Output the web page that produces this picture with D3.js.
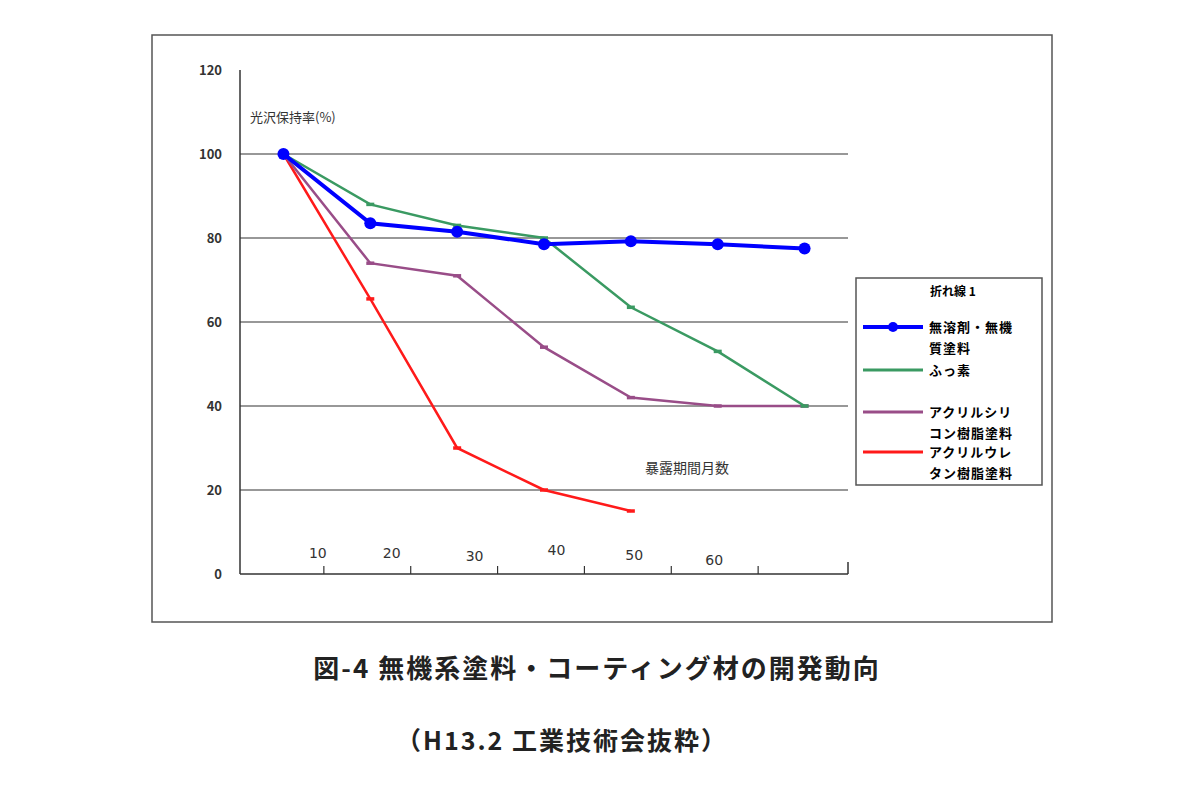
<!DOCTYPE html>
<html>
<head>
<meta charset="utf-8">
<script src="https://cdn.jsdelivr.net/npm/d3@7"></script>
<style>
body { margin: 0; background: #fff; font-family: "Noto Sans CJK JP", sans-serif; }
</style>
</head>
<body>
<script>
var months = [0, 1, 2, 3, 4, 5, 6];
var tickLabels = ["10", "20", "30", "40", "50", "60"];
var yTicks = [0, 20, 40, 60, 80, 100, 120];
var seriesNames = ["無溶剤・無機\n質塗料", "ふっ素", "アクリルシリ\nコン樹脂塗料", "アクリルウレ\nタン樹脂塗料"];
var seriesColors = ["#0000ff", "#3a9a62", "#994d88", "#ff1a1a"];
var inorganic = [100, 83.5, 81.5, 78.5, 79.2, 78.5, 77.5];
var fluorine = [100, 88, 83, 80, 63.5, 53, 40];
var acrylSilicone = [100, 74, 71, 54, 42, 40, 40];
var acrylUrethane = [100, 65.5, 30, 20, 15];
var series = [inorganic, fluorine, acrylSilicone, acrylUrethane];

var svg = d3.select("body").append("svg").attr("width", 1200).attr("height", 798);

svg.append("rect").attr("x", 152).attr("y", 35).attr("width", 900).attr("height", 587)
    .attr("fill", "none").attr("stroke", "#555").attr("stroke-width", 1.5);

var x = d3.scaleBand().domain(months).range([240, 848]);
var y = d3.scaleLinear().domain([0, 120]).range([574, 70]);
function cx(i) { return x(i) + x.bandwidth() / 2; }

// gridlines
svg.selectAll(".grid").data(yTicks.filter(function (d) { return d > 0 && d < 120; }))
    .enter().append("line")
    .attr("x1", 240).attr("x2", 848)
    .attr("y1", function (d) { return y(d); }).attr("y2", function (d) { return y(d); })
    .attr("stroke", "#333").attr("stroke-width", 1.2);

svg.append("line").attr("x1", 240).attr("x2", 240).attr("y1", y(120)).attr("y2", y(0))
    .attr("stroke", "#333").attr("stroke-width", 1.5);
svg.append("line").attr("x1", 240).attr("x2", 848).attr("y1", y(0)).attr("y2", y(0))
    .attr("stroke", "#333").attr("stroke-width", 1.5);
svg.append("line").attr("x1", 848).attr("x2", 848).attr("y1", y(0) - 12).attr("y2", y(0))
    .attr("stroke", "#333").attr("stroke-width", 1.5);

svg.selectAll(".ylab").data(yTicks).enter().append("text")
    .attr("x", 222).attr("y", function (d) { return y(d) + 5; })
    .attr("text-anchor", "end").attr("font-size", 13).attr("font-weight", "bold")
    .attr("fill", "#333").text(function (d) { return d; });

// x ticks at band boundaries
var tickPos = months.slice(1);
svg.selectAll(".xt").data(tickPos.slice(0, 6)).enter().append("line")
    .attr("x1", function (d) { return x(d) - 3; }).attr("x2", function (d) { return x(d) - 3; })
    .attr("y1", y(0) - 8).attr("y2", y(0))
    .attr("stroke", "#333").attr("stroke-width", 1.2);
var labelDy = [-16, -16, -13, -19, -14, -9];
var labelDx = [-9, -22, -26, -31, -40, -47];
svg.selectAll(".xl").data(tickLabels).enter().append("text")
    .attr("x", function (d, i) { return x(i + 1) + labelDx[i]; })
    .attr("y", function (d, i) { return y(0) + labelDy[i]; })
    .attr("text-anchor", "middle").attr("font-size", 14)
    .attr("font-family", "DejaVu Sans, sans-serif").attr("fill", "#333").text(function (d) { return d; });

var line = d3.line().x(function (d, i) { return cx(i); }).y(function (d) { return y(d); });
var order = [3, 2, 1, 0];
order.forEach(function (s) {
    svg.append("path").datum(series[s]).attr("d", line).attr("fill", "none")
        .attr("stroke", seriesColors[s]).attr("stroke-width", s === 0 ? 4 : 2.5);
    if (s === 0) {
        svg.selectAll(".dot").data(series[s]).enter().append("circle")
            .attr("cx", function (d, i) { return cx(i); }).attr("cy", function (d) { return y(d); })
            .attr("r", 6).attr("fill", seriesColors[s]);
    } else {
        svg.selectAll(".m" + s).data(series[s].slice(1)).enter().append("line")
            .attr("x1", function (d, i) { return cx(i + 1) - 4; }).attr("x2", function (d, i) { return cx(i + 1) + 4; })
            .attr("y1", function (d) { return y(d); }).attr("y2", function (d) { return y(d); })
            .attr("stroke", seriesColors[s]).attr("stroke-width", 3.5);
    }
});

svg.append("text").attr("x", 250).attr("y", 122).attr("font-size", 13).attr("fill", "#333").text("光沢保持率(%)");
svg.append("text").attr("x", 645).attr("y", 473).attr("font-size", 14).attr("fill", "#333").text("暴露期間月数");

// legend
var lg = svg.append("g");
lg.append("rect").attr("x", 856).attr("y", 278).attr("width", 186).attr("height", 207)
    .attr("fill", "#fff").attr("stroke", "#555").attr("stroke-width", 1.5);
lg.append("text").attr("x", 930).attr("y", 296).attr("font-size", 12).attr("font-weight", "bold").text("折れ線 1");
var legendY = [327, 370, 412, 452];
seriesNames.forEach(function (n, i) {
    lg.append("line").attr("x1", 863).attr("x2", 923).attr("y1", legendY[i]).attr("y2", legendY[i])
        .attr("stroke", seriesColors[i]).attr("stroke-width", i === 0 ? 4 : 3);
    if (i === 0) lg.append("circle").attr("cx", 893).attr("cy", legendY[i]).attr("r", 5).attr("fill", seriesColors[i]);
    n.split("\n").forEach(function (t, j) {
        lg.append("text").attr("x", 929).attr("y", legendY[i] + 5 + j * 21)
            .attr("font-size", 13).attr("font-weight", "bold").attr("letter-spacing", 1).text(t);
    });
});

svg.append("text").attr("x", 597).attr("y", 678).attr("text-anchor", "middle")
    .attr("font-size", 26).attr("font-weight", "bold").attr("letter-spacing", 2).attr("fill", "#222")
    .text("図-4 無機系塗料・コーティング材の開発動向");
svg.append("text").attr("x", 562).attr("y", 750).attr("text-anchor", "middle")
    .attr("font-size", 25).attr("font-weight", "bold").attr("letter-spacing", 2).attr("fill", "#222")
    .text("（H13.2  工業技術会抜粋）");
</script>
</body>
</html>
